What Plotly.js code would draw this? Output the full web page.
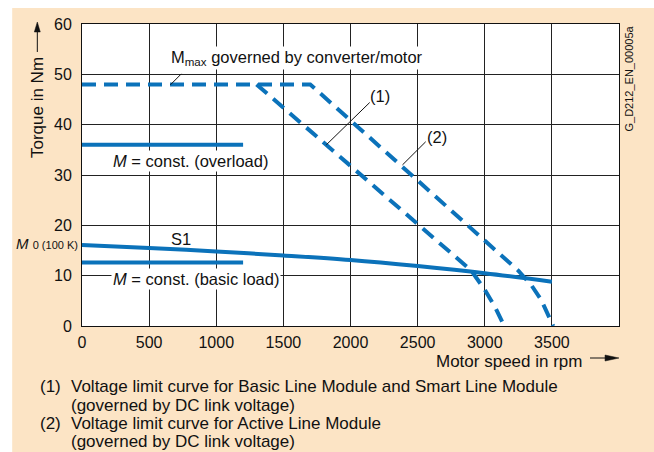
<!DOCTYPE html>
<html>
<head>
<meta charset="utf-8">
<script src="https://cdn.plot.ly/plotly-3.0.1.min.js"></script>
<style>html,body{margin:0;padding:0;background:#fff;}#chart{width:654px;height:452px;}</style>
</head>
<body>
<div id="chart"></div>
<script>
// ---- data ----
const xTicks = [0, 500, 1000, 1500, 2000, 2500, 3000, 3500];
const yTicks = [0, 10, 20, 30, 40, 50, 60];

const mmaxCurve2X = [0, 1700, 3250, 3350, 3420, 3510];
const mmaxCurve2Y = [48, 48, 11, 8, 5.2, 0];

const curve1X = [1300, 2900, 3000, 3080, 3145];
const curve1Y = [48, 11, 7.2, 3.6, 0];

const s1X = [0, 500, 1000, 1500, 2000, 2500, 3000, 3500];
const s1Y = [16.1, 15.5, 14.8, 14.0, 13.1, 11.9, 10.5, 8.8];

const overloadX = [0, 1200];
const overloadY = [36, 36];

const basicX = [0, 1200];
const basicY = [12.6, 12.6];

const footnotes = [
  "(1)", "Voltage limit curve for Basic Line Module and Smart Line Module", "(governed by DC link voltage)",
  "(2)", "Voltage limit curve for Active Line Module", "(governed by DC link voltage)"
];

// ---- styling ----
const BLUE = "#0b72ba";
const PEACH = "#fce4c5";
const FONT = "Liberation Sans, Arial, Helvetica, sans-serif";
const dashStyle = "14px,8px";

const traces = [
  {x: mmaxCurve2X, y: mmaxCurve2Y, mode: "lines", line: {color: BLUE, width: 4, dash: dashStyle}, hoverinfo: "skip"},
  {x: curve1X, y: curve1Y, mode: "lines", line: {color: BLUE, width: 4, dash: dashStyle}, hoverinfo: "skip"},
  {x: s1X, y: s1Y, mode: "lines", line: {color: BLUE, width: 4, shape: "spline"}, hoverinfo: "skip"},
  {x: overloadX, y: overloadY, mode: "lines", line: {color: BLUE, width: 4}, hoverinfo: "skip"},
  {x: basicX, y: basicY, mode: "lines", line: {color: BLUE, width: 4}, hoverinfo: "skip"}
];

const txt = (size, color) => ({family: FONT, size: size, color: color || "#111"});
const C = {xanchor: "center", yanchor: "middle", showarrow: false};
const L = {xanchor: "left", yanchor: "middle", showarrow: false};

const annotations = [
  Object.assign({xref: "x", yref: "y", x: 1603, y: 53.3, text: "M<sub>max</sub> governed by converter/motor",
   font: txt(16.5), bgcolor: "#fff", borderpad: 1}, C),
  Object.assign({xref: "x", yref: "y", x: 811, y: 32.8, text: "<i>M</i> = const. (overload)",
   font: txt(16.5), bgcolor: "#fff", borderpad: 1}, C),
  Object.assign({xref: "x", yref: "y", x: 849, y: 9.4, text: "<i>M</i> = const. (basic load)",
   font: txt(16.5), bgcolor: "#fff", borderpad: 1}, C),
  Object.assign({xref: "x", yref: "y", x: 735, y: 17.3, text: "S1", font: txt(16.5)}, C),
  Object.assign({xref: "x", yref: "y", x: 2218, y: 45.6, text: "(1)", font: txt(16.5)}, C),
  Object.assign({xref: "x", yref: "y", x: 2642, y: 37.6, text: "(2)", font: txt(16.5)}, C),
  // M0 label on the y axis
  {xref: "paper", yref: "y", x: -0.004, y: 16.3, xanchor: "right", yanchor: "middle", showarrow: false,
   text: "<i>M</i> <span style=\"font-size:11px\">0 (100 K)</span>", font: txt(15)},
  // axis titles
  Object.assign({xref: "paper", yref: "paper", x: -0.0838, y: 0.725, textangle: -90, text: "Torque in Nm", font: txt(17)}, C),
  Object.assign({xref: "paper", yref: "paper", x: 0.795, y: -0.118, text: "Motor speed in rpm", font: txt(17)}, C),
  // figure id
  Object.assign({xref: "paper", yref: "paper", x: 1.0168, y: 0.8195, textangle: -90, text: "G_D212_EN_00005a", font: txt(11)}, C),
  // footnotes
  Object.assign({xref: "paper", yref: "paper", x: -0.0819, y: -0.2010, text: footnotes[0], font: txt(17)}, L),
  Object.assign({xref: "paper", yref: "paper", x: -0.0248, y: -0.2010, text: footnotes[1], font: txt(17)}, L),
  Object.assign({xref: "paper", yref: "paper", x: -0.0248, y: -0.2616, text: footnotes[2], font: txt(17)}, L),
  Object.assign({xref: "paper", yref: "paper", x: -0.0819, y: -0.3222, text: footnotes[3], font: txt(17)}, L),
  Object.assign({xref: "paper", yref: "paper", x: -0.0248, y: -0.3222, text: footnotes[4], font: txt(17)}, L),
  Object.assign({xref: "paper", yref: "paper", x: -0.0248, y: -0.3831, text: footnotes[5], font: txt(17)}, L)
];

const shapes = [
  {type: "rect", xref: "paper", yref: "paper", x0: -0.130, x1: 1.07, y0: -0.42, y1: 1.053,
   fillcolor: PEACH, line: {width: 0}, layer: "below"},
  {type: "rect", xref: "paper", yref: "paper", x0: 0, x1: 1, y0: 0, y1: 1,
   fillcolor: "#fff", line: {width: 0}, layer: "below"},
  // leader lines
  {type: "line", xref: "x", yref: "y", x0: 658, y0: 47.9, x1: 740, y1: 50.1, line: {color: "#111", width: 1}},
  {type: "line", xref: "x", yref: "y", x0: 1820, y0: 36.0, x1: 2143, y1: 44.4, line: {color: "#111", width: 1}},
  {type: "line", xref: "x", yref: "y", x0: 2387, y0: 32.0, x1: 2560, y1: 36.6, line: {color: "#111", width: 1}},
  // y-axis title arrow
  {type: "line", xref: "paper", yref: "paper", x0: -0.0832, x1: -0.0832, y0: 0.9073, y1: 0.975, line: {color: "#111", width: 1}},
  {type: "path", xref: "paper", yref: "paper", path: "M -0.0832 1.0066 L -0.0888 0.9735 L -0.0777 0.9735 Z",
   fillcolor: "#111", line: {color: "#111", width: 0.5}},
  // x-axis title arrow
  {type: "line", xref: "paper", yref: "paper", x0: 0.946, x1: 0.976, y0: -0.106, y1: -0.106, line: {color: "#111", width: 1}},
  {type: "path", xref: "paper", yref: "paper", path: "M 1.0 -0.106 L 0.974 -0.0961 L 0.974 -0.1159 Z",
   fillcolor: "#111", line: {color: "#111", width: 0.5}}
];

const layout = {
  width: 654, height: 452,
  margin: {l: 82, r: 35, t: 24, b: 126, pad: 0},
  paper_bgcolor: "#fff",
  plot_bgcolor: "rgba(0,0,0,0)",
  showlegend: false,
  font: {family: FONT, color: "#111"},
  xaxis: {
    range: [0, 4000], tickvals: xTicks, ticktext: xTicks.map(String),
    showgrid: true, gridcolor: "#222", gridwidth: 1, zeroline: false,
    showline: true, linecolor: "#111", linewidth: 1, mirror: true, ticks: "",
    tickfont: {family: FONT, size: 16, color: "#111"}, ticklabelstandoff: 2
  },
  yaxis: {
    range: [0, 60], tickvals: yTicks, ticktext: yTicks.map(String),
    showgrid: true, gridcolor: "#222", gridwidth: 1, zeroline: false,
    showline: true, linecolor: "#111", linewidth: 1, mirror: true, ticks: "",
    tickfont: {family: FONT, size: 16, color: "#111"}, ticklabelstandoff: 6
  },
  shapes: shapes,
  annotations: annotations
};

Plotly.newPlot("chart", traces, layout, {staticPlot: true, displayModeBar: false});
</script>
</body>
</html>
